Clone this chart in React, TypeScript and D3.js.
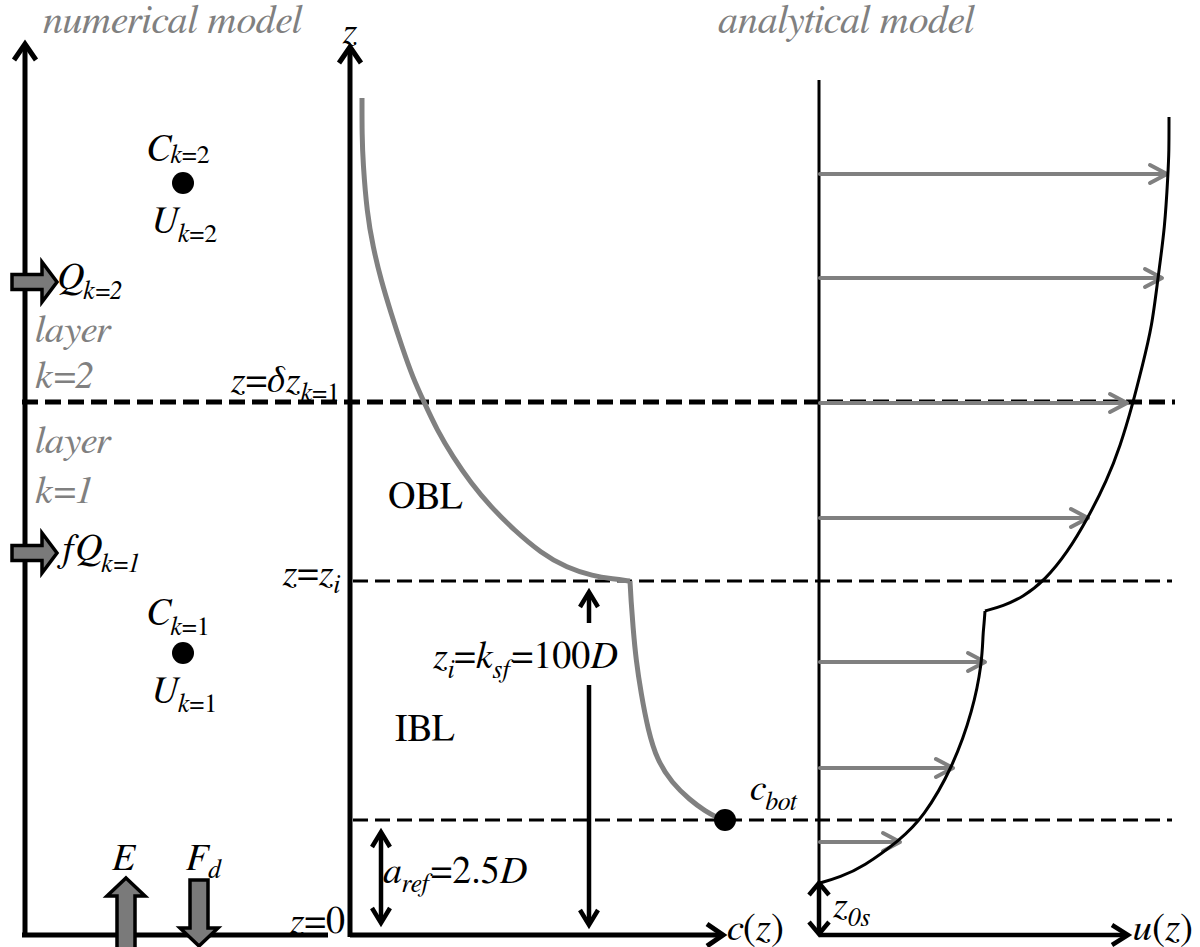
import React from 'react';
import * as d3 from 'd3';

const W = 1200;
const H = 947;
const serif = "'FreeSerif', 'Liberation Serif', 'Times New Roman', serif";
const GRAY = '#808080';

// Heights are in drawing units above the bed (z = 0)
const Z_MAX = 900;
const zAxisTop = 888;
const zLayerInterface = 533; // z = δz_{k=1}
const zIbl = 354; // z = z_i
const zRef = 115; // a_ref = 2.5D
const z0s = 52; // roughness height

// Numerical model: layer centres and side inflows
const cellZ = [752, 282];
const cellLabels = ['2', '1'];
const inflowZ = [653, 382];

// Concentration profile c(z), outer boundary layer then inner boundary layer: [c, z]
const cOuter: [number, number][] = [
  [12, 837], [12, 800], [13, 772], [17, 722], [23, 688], [31, 655], [41, 622], [52, 588],
  [63, 557], [74, 533], [87, 505], [103, 478], [121, 452], [141, 428], [164, 405],
  [191, 382], [217, 367], [243, 359], [263, 356], [280, 354],
];
const cInner: [number, number][] = [
  [280, 354], [281, 335], [283, 308], [286, 275], [291, 242], [298, 205], [307, 175],
  [322, 152], [340, 135], [355, 124], [368, 117], [375, 115],
];
const cBot: [number, number] = [375, 115];

// Velocity profile u(z): [u, z]
const uOuter: [number, number][] = [
  [350, 818], [350, 782], [349, 762], [346, 708], [339, 658], [333, 608], [323, 568],
  [314, 532], [301, 488], [288, 455], [269, 417], [248, 382], [226, 355], [204, 338],
  [184, 329], [166, 324],
];
const uInner: [number, number][] = [
  [166, 324], [165, 310], [164, 302], [163, 272], [154, 225], [134, 168], [104, 117], [81, 95],
  [44, 68], [21, 58], [1, 52],
];

// Velocity vectors
const windZ = [761, 657, 532, 417, 273, 167, 93];
const windU = [348, 343, 308, 269, 166, 134, 81];

const zScale = d3.scaleLinear().domain([0, Z_MAX]).range([935, 35]);
const cScale = d3.scaleLinear().domain([0, 375]).range([350, 725]);
const uScale = d3.scaleLinear().domain([0, 355]).range([819, 1174]);
const leftAxisX = 25;
const cellX = 183;

const cLine = d3
  .line<[number, number]>()
  .x((d) => cScale(d[0]))
  .y((d) => zScale(d[1]))
  .curve(d3.curveBasis);
const uLine = d3
  .line<[number, number]>()
  .x((d) => uScale(d[0]))
  .y((d) => zScale(d[1]))
  .curve(d3.curveBasis);

function chevron(x: number, y: number, dir: 'up' | 'down' | 'right', len: number, half: number) {
  if (dir === 'up') return `M${x - half},${y + len}L${x},${y}L${x + half},${y + len}`;
  if (dir === 'down') return `M${x - half},${y - len}L${x},${y}L${x + half},${y - len}`;
  return `M${x - len},${y - half}L${x},${y}L${x - len},${y + half}`;
}

// Block arrow pointing right, centred at y
function blockRight(x0: number, y: number) {
  const shaftHalf = 7.5, headHalf = 20, shaftLen = 30, headLen = 15;
  const x1 = x0 + shaftLen;
  const x2 = x1 + headLen;
  return `M${x0},${y - shaftHalf}L${x1},${y - shaftHalf}L${x1},${y - headHalf}L${x2},${y}L${x1},${y + headHalf}L${x1},${y + shaftHalf}L${x0},${y + shaftHalf}Z`;
}
function blockVertical(x: number, tipY: number, baseY: number, dir: 'up' | 'down') {
  const shaftHalf = 9, headHalf = 19, headLen = 18;
  const s = dir === 'up' ? 1 : -1;
  const hb = tipY + s * headLen;
  return `M${x},${tipY}L${x + headHalf},${hb}L${x + shaftHalf},${hb}L${x + shaftHalf},${baseY}L${x - shaftHalf},${baseY}L${x - shaftHalf},${hb}L${x - headHalf},${hb}Z`;
}

function DoubleArrow({ x, zHi, zLo, gap }: { x: number; zHi: number; zLo: number; gap?: [number, number] }) {
  const yTop = zScale(zHi);
  const yBot = zScale(zLo);
  return (
    <g stroke="#000" strokeWidth={4.5} fill="none">
      {gap ? (
        <>
          <line x1={x} x2={x} y1={yTop + 2} y2={gap[0]} />
          <line x1={x} x2={x} y1={gap[1]} y2={yBot - 2} />
        </>
      ) : (
        <line x1={x} x2={x} y1={yTop + 2} y2={yBot - 2} />
      )}
      <path d={chevron(x, yTop, 'up', 15, 9)} />
      <path d={chevron(x, yBot, 'down', 15, 9)} />
    </g>
  );
}

const MAIN = 38;
const SUB = 26;

export default function App() {
  const yInterface = zScale(zLayerInterface);
  const yZi = zScale(zIbl);
  const yRef = zScale(zRef);
  const y0 = zScale(0);
  const yTip = zScale(zAxisTop);

  return (
    <svg
      width={W}
      height={H}
      viewBox={`0 0 ${W} ${H}`}
      style={{ position: 'absolute', left: 0, top: 0, display: 'block', background: '#fff' }}
      fontFamily={serif}
    >
      <rect width={W} height={H} fill="#fff" />

      {/* titles */}
      <text x={43} y={33} fontSize={40} fontStyle="italic" fill={GRAY}>numerical model</text>
      <text x={718} y={33} fontSize={40} fontStyle="italic" fill={GRAY}>analytical model</text>

      {/* dashed levels */}
      <line x1={22} x2={1175} y1={yInterface} y2={yInterface} stroke="#000" strokeWidth={5} strokeDasharray="16 7" />
      <line x1={353} x2={1172} y1={yZi} y2={yZi} stroke="#000" strokeWidth={3} strokeDasharray="15 7" />
      <line x1={353} x2={1172} y1={yRef} y2={yRef} stroke="#000" strokeWidth={3} strokeDasharray="15 7" />

      {/* numerical model frame */}
      <g stroke="#000" strokeWidth={5} fill="none">
        <line x1={leftAxisX} x2={leftAxisX} y1={y0 + 2} y2={zScale(zAxisTop)} />
        <path d={chevron(leftAxisX, zScale(zAxisTop) - 3, 'up', 16, 11)} />
        <line x1={22} x2={328} y1={y0} y2={y0} />
      </g>

      {/* layer labels */}
      <g fontSize={39} fontStyle="italic" fill={GRAY}>
        <text x={35} y={342}>layer</text>
        <text x={35} y={388}>k=2</text>
        <text x={35} y={453}>layer</text>
        <text x={35} y={503}>k=1</text>
      </g>

      {/* layer centre values */}
      {cellZ.map((z, i) => {
        const cy = zScale(z);
        return (
          <g key={i}>
            <circle cx={cellX} cy={cy} r={11} fill="#000" />
            <text x={147} y={cy - 22 - (i === 0 ? 0 : 6)} fontSize={MAIN} fill="#000">
              <tspan fontStyle="italic">C</tspan>
              <tspan fontSize={SUB} dy={i === 0 ? 2 : 10} fontStyle="italic">k</tspan>
              <tspan fontSize={SUB}>={cellLabels[i]}</tspan>
            </text>
            <text x={151} y={cy + 50} fontSize={MAIN} fill="#000">
              <tspan fontStyle="italic">U</tspan>
              <tspan fontSize={SUB} dy={9} fontStyle="italic">k</tspan>
              <tspan fontSize={SUB}>={cellLabels[i]}</tspan>
            </text>
          </g>
        );
      })}

      {/* side inflows */}
      {inflowZ.map((z, i) => (
        <path key={i} d={blockRight(12, zScale(z))} fill="#7a7a7a" stroke="#000" strokeWidth={3.5} strokeLinejoin="miter" />
      ))}
      <text x={58} y={zScale(inflowZ[0]) + 7} fontSize={MAIN} fontStyle="italic">
        <tspan>Q</tspan>
        <tspan fontSize={SUB} dy={10}>k=2</tspan>
      </text>
      <text x={60} y={zScale(inflowZ[1]) + 7} fontSize={MAIN} fontStyle="italic">
        <tspan>fQ</tspan>
        <tspan fontSize={SUB} dy={12}>k=1</tspan>
      </text>

      {/* bed fluxes */}
      <path d={blockVertical(126, 878, 955, 'up')} fill="#7a7a7a" stroke="#000" strokeWidth={3.5} />
      <path d={blockVertical(199, 946, 880, 'down')} fill="#7a7a7a" stroke="#000" strokeWidth={3.5} />
      <text x={112} y={870} fontSize={MAIN} fontStyle="italic">E</text>
      <text x={186} y={870} fontSize={MAIN} fontStyle="italic">
        <tspan>F</tspan>
        <tspan fontSize={SUB} dy={8}>d</tspan>
      </text>

      {/* level labels */}
      <text x={340} y={392} fontSize={MAIN} textAnchor="end">
        <tspan fontStyle="italic">z</tspan>
        <tspan>=</tspan>
        <tspan fontStyle="italic">δz</tspan>
        <tspan fontSize={SUB} dy={9} fontStyle="italic">k</tspan>
        <tspan fontSize={SUB}>=1</tspan>
      </text>
      <text x={340} y={585} fontSize={MAIN} textAnchor="end">
        <tspan fontStyle="italic">z</tspan>
        <tspan>=</tspan>
        <tspan fontStyle="italic">z</tspan>
        <tspan fontSize={SUB} dy={8} fontStyle="italic">i</tspan>
      </text>
      <text x={345} y={933} fontSize={MAIN} textAnchor="end">
        <tspan fontStyle="italic">z</tspan>
        <tspan>=0</tspan>
      </text>

      {/* concentration axes */}
      <g stroke="#000" strokeWidth={5} fill="none">
        <line x1={cScale(0)} x2={cScale(0)} y1={y0 + 2} y2={yTip + 3} />
        <path d={chevron(cScale(0), yTip, 'up', 16, 11)} />
        <line x1={cScale(0)} x2={721} y1={y0} y2={y0} />
        <path d={chevron(723, y0, 'right', 16, 11)} />
      </g>
      <text x={cScale(0)} y={43} fontSize={MAIN} fontStyle="italic" textAnchor="middle">z</text>
      <text x={727} y={940} fontSize={39}>
        <tspan fontStyle="italic">c</tspan>
        <tspan>(</tspan>
        <tspan fontStyle="italic">z</tspan>
        <tspan>)</tspan>
      </text>

      {/* concentration profile */}
      <path d={cLine(cOuter) ?? ''} fill="none" stroke={GRAY} strokeWidth={5} />
      <path d={cLine(cInner) ?? ''} fill="none" stroke={GRAY} strokeWidth={5} />
      <circle cx={cScale(cBot[0])} cy={zScale(cBot[1])} r={11} fill="#000" />
      <text x={750} y={800} fontSize={MAIN} fontStyle="italic">
        <tspan>c</tspan>
        <tspan fontSize={SUB} dy={10}>bot</tspan>
      </text>

      <text x={388} y={508} fontSize={MAIN}>OBL</text>
      <text x={395} y={740} fontSize={MAIN}>IBL</text>

      {/* boundary layer thicknesses */}
      <DoubleArrow x={589} zHi={zIbl - 11} zLo={10} gap={[623, 685]} />
      <text x={433} y={668} fontSize={MAIN}>
        <tspan fontStyle="italic">z</tspan>
        <tspan fontSize={SUB} dy={10} fontStyle="italic">i</tspan>
        <tspan dy={-10}>=</tspan>
        <tspan fontStyle="italic">k</tspan>
        <tspan fontSize={SUB} dy={10} fontStyle="italic">sf</tspan>
        <tspan dy={-10}>=100</tspan>
        <tspan fontStyle="italic">D</tspan>
      </text>
      <DoubleArrow x={381} zHi={zRef - 12} zLo={12} />
      <text x={383} y={883} fontSize={MAIN}>
        <tspan fontStyle="italic">a</tspan>
        <tspan fontSize={SUB} dy={9} fontStyle="italic">ref</tspan>
        <tspan dy={-9}>=2.5</tspan>
        <tspan fontStyle="italic">D</tspan>
      </text>

      {/* velocity axes */}
      <line x1={uScale(0)} x2={uScale(0)} y1={zScale(z0s)} y2={80} stroke="#000" strokeWidth={3} />
      <g stroke="#000" strokeWidth={4.5} fill="none">
        <line x1={uScale(0)} x2={1126} y1={y0} y2={y0} />
        <path d={chevron(1128, y0, 'right', 16, 10)} />
        <line x1={uScale(0)} x2={uScale(0)} y1={zScale(z0s) + 3} y2={y0 - 3} />
        <path d={chevron(uScale(0), zScale(z0s), 'up', 12, 10)} />
        <path d={chevron(uScale(0), y0 - 1, 'down', 12, 10)} />
      </g>
      <text x={833} y={917} fontSize={MAIN} fontStyle="italic">
        <tspan>z</tspan>
        <tspan fontSize={SUB} dy={9}>0s</tspan>
      </text>
      <text x={1133} y={940} fontSize={39}>
        <tspan fontStyle="italic">u</tspan>
        <tspan>(</tspan>
        <tspan fontStyle="italic">z</tspan>
        <tspan>)</tspan>
      </text>

      {/* velocity vectors */}
      <g stroke={GRAY} strokeWidth={4} fill="none" strokeLinecap="round" strokeLinejoin="round">
        {windZ.map((z, i) => {
          const y = zScale(z);
          const x1 = uScale(windU[i]);
          return (
            <g key={i}>
              <line x1={uScale(0) + 1} x2={x1 - 2} y1={y} y2={y} />
              <path d={chevron(x1, y, 'right', 17, 9)} />
            </g>
          );
        })}
      </g>

      {/* velocity profile */}
      <path d={uLine(uOuter) ?? ''} fill="none" stroke="#000" strokeWidth={3} />
      <path d={uLine(uInner) ?? ''} fill="none" stroke="#000" strokeWidth={3} />
    </svg>
  );
}
